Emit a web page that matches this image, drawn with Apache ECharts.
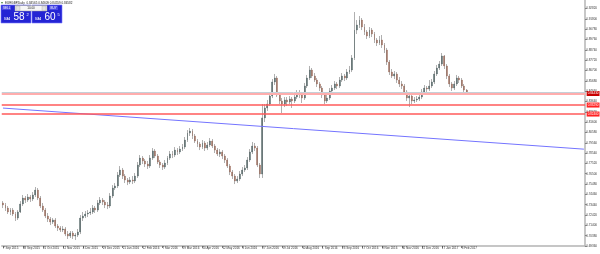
<!DOCTYPE html>
<html><head><meta charset="utf-8">
<script src="https://cdn.jsdelivr.net/npm/echarts@6/dist/echarts.min.js"></script>
<style>html,body{margin:0;padding:0;background:#fff}#c{width:600px;height:254px}</style>
</head><body><div id="c"></div>
<script>
// EURGBP daily (each bar here ~2 sessions), [open, close, low, high]
const candles = [
[0.7361,0.7341,0.7311,0.7380],[0.7341,0.7311,0.7282,0.7361],[0.7311,0.7272,0.7252,0.7331],[0.7272,0.7291,0.7242,0.7311],[0.7291,0.7252,0.7232,0.7311],
[0.7252,0.7212,0.7183,0.7272],[0.7212,0.7272,0.7193,0.7291],[0.7272,0.7351,0.7262,0.7380],[0.7351,0.7410,0.7331,0.7440],[0.7410,0.7390,0.7361,0.7430],
[0.7390,0.7420,0.7371,0.7450],[0.7420,0.7400,0.7371,0.7440],[0.7400,0.7440,0.7380,0.7469],[0.7440,0.7489,0.7420,0.7519],[0.7489,0.7410,0.7390,0.7509],
[0.7410,0.7331,0.7311,0.7430],[0.7331,0.7291,0.7272,0.7361],[0.7291,0.7232,0.7212,0.7311],[0.7232,0.7202,0.7173,0.7262],[0.7202,0.7173,0.7143,0.7222],
[0.7173,0.7193,0.7153,0.7212],[0.7193,0.7133,0.7114,0.7212],[0.7133,0.7114,0.7084,0.7153],[0.7114,0.7094,0.7074,0.7133],[0.7094,0.7104,0.7074,0.7133],
[0.7104,0.7054,0.7034,0.7123],[0.7054,0.7034,0.7005,0.7084],[0.7034,0.7064,0.7015,0.7084],[0.7064,0.7034,0.7005,0.7084],[0.7034,0.7044,0.6995,0.7064],
[0.7044,0.7074,0.7025,0.7104],[0.7074,0.7212,0.7054,0.7242],[0.7212,0.7232,0.7183,0.7272],[0.7232,0.7252,0.7212,0.7282],[0.7252,0.7262,0.7222,0.7291],
[0.7262,0.7272,0.7242,0.7311],[0.7272,0.7311,0.7252,0.7341],[0.7311,0.7291,0.7262,0.7331],[0.7291,0.7361,0.7272,0.7390],[0.7361,0.7390,0.7341,0.7420],
[0.7390,0.7371,0.7341,0.7410],[0.7371,0.7341,0.7311,0.7390],[0.7341,0.7331,0.7301,0.7371],[0.7331,0.7430,0.7311,0.7459],[0.7430,0.7509,0.7410,0.7538],
[0.7509,0.7529,0.7489,0.7558],[0.7529,0.7637,0.7509,0.7667],[0.7637,0.7687,0.7618,0.7726],[0.7687,0.7627,0.7598,0.7707],[0.7627,0.7588,0.7558,0.7647],
[0.7588,0.7568,0.7538,0.7608],[0.7568,0.7588,0.7548,0.7618],[0.7588,0.7578,0.7548,0.7627],[0.7578,0.7627,0.7558,0.7657],[0.7627,0.7736,0.7608,0.7766],
[0.7736,0.7805,0.7716,0.7835],[0.7805,0.7776,0.7746,0.7825],[0.7776,0.7746,0.7716,0.7795],[0.7746,0.7726,0.7697,0.7776],[0.7726,0.7805,0.7707,0.7835],
[0.7805,0.7875,0.7786,0.7904],[0.7875,0.7825,0.7805,0.7894],[0.7825,0.7766,0.7746,0.7845],[0.7766,0.7736,0.7707,0.7786],[0.7736,0.7716,0.7687,0.7756],
[0.7716,0.7756,0.7697,0.7786],[0.7756,0.7805,0.7736,0.7825],[0.7805,0.7845,0.7786,0.7875],[0.7845,0.7835,0.7805,0.7875],[0.7835,0.7884,0.7815,0.7914],
[0.7884,0.7865,0.7835,0.7904],[0.7865,0.7894,0.7845,0.7924],[0.7894,0.7914,0.7875,0.7944],[0.7914,0.7983,0.7894,0.8013],[0.7983,0.8052,0.7964,0.8082],
[0.8052,0.8072,0.8023,0.8102],[0.8072,0.8023,0.7993,0.8092],[0.8023,0.7973,0.7954,0.8043],[0.7973,0.7944,0.7914,0.7993],[0.7944,0.7914,0.7884,0.7964],
[0.7914,0.7954,0.7894,0.7983],[0.7954,0.7904,0.7875,0.7973],[0.7904,0.7934,0.7884,0.7964],[0.7934,0.7973,0.7914,0.8003],[0.7973,0.7924,0.7904,0.7993],
[0.7924,0.7884,0.7855,0.7944],[0.7884,0.7845,0.7825,0.7904],[0.7845,0.7865,0.7815,0.7894],[0.7865,0.7825,0.7795,0.7884],[0.7825,0.7786,0.7756,0.7845],
[0.7786,0.7726,0.7707,0.7805],[0.7726,0.7667,0.7637,0.7746],[0.7667,0.7627,0.7598,0.7687],[0.7627,0.7578,0.7548,0.7647],[0.7578,0.7598,0.7558,0.7627],
[0.7598,0.7647,0.7578,0.7677],[0.7647,0.7687,0.7627,0.7716],[0.7687,0.7707,0.7667,0.7736],[0.7707,0.7786,0.7687,0.7815],[0.7786,0.7865,0.7766,0.7894],
[0.7865,0.7924,0.7845,0.7964],[0.7924,0.7904,0.7875,0.7954],[0.7904,0.7736,0.7716,0.7924],[0.7736,0.7647,0.7608,0.7756],[0.7647,0.8202,0.7608,0.8339],
[0.8202,0.8300,0.8161,0.8339],[0.8300,0.8339,0.8270,0.8379],[0.8339,0.8418,0.8319,0.8448],[0.8418,0.8557,0.8398,0.8586],[0.8557,0.8596,0.8527,0.8636],
[0.8596,0.8428,0.8408,0.8616],[0.8428,0.8369,0.8339,0.8458],[0.8369,0.8339,0.8250,0.8398],[0.8339,0.8379,0.8309,0.8408],[0.8379,0.8359,0.8319,0.8408],
[0.8359,0.8388,0.8339,0.8418],[0.8388,0.8369,0.8300,0.8408],[0.8369,0.8408,0.8349,0.8438],[0.8408,0.8448,0.8388,0.8477],[0.8448,0.8428,0.8398,0.8477],
[0.8428,0.8398,0.8349,0.8458],[0.8398,0.8517,0.8379,0.8547],[0.8517,0.8596,0.8497,0.8626],[0.8596,0.8675,0.8576,0.8715],[0.8675,0.8616,0.8596,0.8695],
[0.8616,0.8576,0.8557,0.8645],[0.8576,0.8537,0.8507,0.8596],[0.8537,0.8497,0.8468,0.8557],[0.8497,0.8428,0.8398,0.8517],[0.8428,0.8369,0.8339,0.8448],
[0.8369,0.8398,0.8349,0.8428],[0.8398,0.8468,0.8379,0.8497],[0.8468,0.8497,0.8448,0.8527],[0.8497,0.8537,0.8477,0.8566],[0.8537,0.8517,0.8487,0.8557],
[0.8517,0.8576,0.8497,0.8606],[0.8576,0.8616,0.8557,0.8645],[0.8616,0.8596,0.8566,0.8636],[0.8596,0.8655,0.8576,0.8685],[0.8655,0.8675,0.8636,0.8715],
[0.8675,0.8794,0.8655,0.8823],[0.8794,0.9070,0.8774,0.9248],[0.9070,0.9120,0.9031,0.9169],[0.9120,0.9169,0.9090,0.9209],[0.9169,0.9100,0.9070,0.9189],
[0.9100,0.9051,0.9021,0.9130],[0.9051,0.9011,0.8982,0.9070],[0.9011,0.9070,0.8991,0.9100],[0.9070,0.9031,0.9001,0.9090],[0.9031,0.8972,0.8942,0.9051],
[0.8972,0.8942,0.8912,0.8991],[0.8942,0.8972,0.8922,0.9011],[0.8972,0.8922,0.8893,0.9021],[0.8922,0.8873,0.8843,0.8942],[0.8873,0.8754,0.8725,0.8893],
[0.8754,0.8655,0.8626,0.8774],[0.8655,0.8616,0.8596,0.8685],[0.8616,0.8636,0.8586,0.8665],[0.8636,0.8576,0.8547,0.8655],[0.8576,0.8537,0.8507,0.8606],
[0.8537,0.8517,0.8487,0.8566],[0.8517,0.8458,0.8428,0.8537],[0.8458,0.8398,0.8369,0.8477],[0.8398,0.8418,0.8309,0.8448],[0.8418,0.8369,0.8339,0.8438],
[0.8369,0.8379,0.8349,0.8408],[0.8379,0.8388,0.8359,0.8418],[0.8388,0.8408,0.8369,0.8438],[0.8408,0.8458,0.8388,0.8487],[0.8458,0.8497,0.8438,0.8527],
[0.8497,0.8487,0.8458,0.8517],[0.8487,0.8517,0.8468,0.8576],[0.8517,0.8557,0.8497,0.8586],[0.8557,0.8636,0.8537,0.8665],[0.8636,0.8695,0.8616,0.8725],
[0.8695,0.8734,0.8675,0.8764],[0.8734,0.8814,0.8715,0.8843],[0.8814,0.8715,0.8685,0.8823],[0.8715,0.8616,0.8586,0.8734],[0.8616,0.8537,0.8507,0.8636],
[0.8537,0.8497,0.8468,0.8557],[0.8497,0.8537,0.8477,0.8566],[0.8537,0.8596,0.8517,0.8626],[0.8596,0.8576,0.8547,0.8616],[0.8576,0.8517,0.8497,0.8596],
[0.8517,0.8477,0.8458,0.8537],[0.8477,0.84582,0.8448,0.8487]
];
// date labels along the time axis (one every 8 bars)
const dateLabels = ['7 Sep 2015','28 Sep 2015','21 Oct 2015','12 Nov 2015','4 Dec 2015','29 Dec 2015','21 Jan 2016','12 Feb 2016','7 Mar 2016','29 Mar 2016','20 Apr 2016','12 May 2016','3 Jun 2016','27 Jun 2016','19 Jul 2016','10 Aug 2016','1 Sep 2016','23 Sep 2016','17 Oct 2016','8 Nov 2016','30 Nov 2016','22 Dec 2016','17 Jan 2017','8 Feb 2017'];
const barsPerLabel = 8;
const totalSlots = 234;           // includes empty chart shift on the right
const bidPrice = 0.84582;
const levelPrices = [0.8443, 0.8329, 0.8240];
const trendLine = [[0, 0.8299], [233, 0.7893]];  // [slot index, price]
const titleText = 'EURGBP,Daily  0.84565 0.84609 0.84559 0.84582';
const sellQuote = ['0.84', '58', '2'];
const buyQuote = ['0.84', '60', '5'];
const lotText = '10.00';

const categories = [];
for (let i = 0; i < totalSlots; i++) {
  const k = i / barsPerLabel;
  categories.push(Number.isInteger(k) && k < dateLabels.length ? dateLabels[k] : '');
}
const showLabel = (idx) => categories[idx] !== '';
const bodies = candles.map(([o, c]) => [o, c, Math.min(o, c), Math.max(o, c)]);

const chart = echarts.init(document.getElementById('c'), null, {renderer: 'canvas'});
const FONT = 'Liberation Sans, Arial, sans-serif';
const blue = '#2424d4';
const levelLabel = (bg) => ({show: true, position: 'end', distance: 1.5, formatter: p => p.value.toFixed(5),
  color: '#fff', backgroundColor: bg, fontSize: 3, padding: [1, 1], fontFamily: FONT});
chart.setOption({
  animation: false,
  grid: {left: 0, right: 14, top: 0, bottom: 8},
  xAxis: {
    type: 'category', data: categories, boundaryGap: true,
    axisLine: {lineStyle: {color: '#b4b4b4', width: 1.5}},
    axisTick: {show: true, interval: showLabel, length: 2, alignWithLabel: true, lineStyle: {color: '#777'}},
    axisLabel: {interval: showLabel, fontSize: 3, margin: 1, align: 'left', color: '#333', fontFamily: FONT},
    splitLine: {show: false}
  },
  yAxis: {
    type: 'value', position: 'right', scale: true,
    min: 0.6936, max: 0.9367, interval: 0.0102,
    axisLine: {show: true, lineStyle: {color: '#b4b4b4', width: 1.5}},
    axisTick: {show: true, length: 1.5, lineStyle: {color: '#777'}},
    axisLabel: {fontSize: 3, margin: 1, color: '#333', fontFamily: FONT, showMaxLabel: false,
      formatter: v => v.toFixed(5)},
    splitLine: {show: false}
  },
  series: [
    {
      type: 'candlestick', data: candles, barWidth: 1, silent: true,
      itemStyle: {color: '#b0b0b0', color0: '#b0b0b0', borderColor: '#b0b0b0', borderColor0: '#b0b0b0', borderWidth: 1}
    },
    {
      type: 'candlestick', data: bodies, barWidth: 1.4, silent: true,
      itemStyle: {color: '#45585a', color0: '#93604e', borderColor: '#45585a', borderColor0: '#93604e', borderWidth: 0.3},
      markLine: {
        silent: true, symbol: ['none', 'none'], animation: false, precision: 5,
        data: [
          [{coord: trendLine[0], lineStyle: {color: '#7474ff', width: 1, type: 'solid'}, label: {show: false}},
           {coord: trendLine[1]}],
          {yAxis: bidPrice, lineStyle: {color: '#c4d0d8', width: 1, type: 'solid'}, label: {show: false}},
          {yAxis: levelPrices[0], lineStyle: {color: '#ffadad', width: 2, type: 'solid'}, label: levelLabel('#c80000')},
          {yAxis: levelPrices[1], lineStyle: {color: '#ff5a5a', width: 1.5, type: 'solid'}, label: levelLabel('#f22')},
          {yAxis: levelPrices[2], lineStyle: {color: '#ff5a5a', width: 1.5, type: 'solid'}, label: levelLabel('#f22')}
        ]
      }
    }
  ],
  graphic: [
    {type: 'text', left: 1, top: 1, style: {text: '▾', fontSize: 4, fill: '#4a8a4a', fontFamily: 'DejaVu Sans'}},
    {type: 'text', left: 5, top: 1.2, style: {text: titleText, fontSize: 3, fill: '#222', fontFamily: FONT}},
    {type: 'rect', shape: {x: 1, y: 5, width: 30, height: 18}, style: {fill: blue, stroke: '#7a7aff', lineWidth: 0.6}},
    {type: 'rect', shape: {x: 32, y: 5, width: 30, height: 18}, style: {fill: blue, stroke: '#7a7aff', lineWidth: 0.6}},
    {type: 'rect', shape: {x: 2, y: 6, width: 9, height: 4}, style: {fill: '#4a4ae6'}},
    {type: 'rect', shape: {x: 49, y: 6, width: 9, height: 4}, style: {fill: '#4a4ae6'}},
    {type: 'text', x: 3, y: 8, style: {text: 'SELL', fontSize: 3, fill: '#fff', verticalAlign: 'middle', fontFamily: FONT}},
    {type: 'text', x: 50.5, y: 8, style: {text: 'BUY', fontSize: 3, fill: '#fff', verticalAlign: 'middle', fontFamily: FONT}},
    {type: 'rect', shape: {x: 15, y: 5.5, width: 32, height: 5.5}, style: {fill: '#f6f6f6', stroke: '#9a9a9a', lineWidth: 0.5}},
    {type: 'rect', shape: {x: 16, y: 6, width: 4, height: 4.5}, style: {fill: '#e2e2e2', stroke: '#aaa', lineWidth: 0.4}},
    {type: 'rect', shape: {x: 42, y: 6, width: 4, height: 4.5}, style: {fill: '#e2e2e2', stroke: '#aaa', lineWidth: 0.4}},
    {type: 'text', x: 31, y: 8.3, style: {text: lotText, fontSize: 3, fill: '#222', align: 'center', verticalAlign: 'middle', fontFamily: FONT}},
    {type: 'text', x: 4, y: 19.5, style: {text: sellQuote[0], fontSize: 3, fill: '#fff', verticalAlign: 'middle', fontFamily: FONT, fontWeight: 'bold'}},
    {type: 'text', x: 13.5, y: 17.5, style: {text: sellQuote[1], fontSize: 10, fill: '#fff', verticalAlign: 'middle', fontFamily: FONT}},
    {type: 'text', x: 26.5, y: 14.5, style: {text: sellQuote[2], fontSize: 4, fill: '#fff', verticalAlign: 'middle', fontFamily: FONT}},
    {type: 'text', x: 35, y: 19.5, style: {text: buyQuote[0], fontSize: 3, fill: '#fff', verticalAlign: 'middle', fontFamily: FONT, fontWeight: 'bold'}},
    {type: 'text', x: 44.5, y: 17.5, style: {text: buyQuote[1], fontSize: 10, fill: '#fff', verticalAlign: 'middle', fontFamily: FONT}},
    {type: 'text', x: 57.5, y: 14.5, style: {text: buyQuote[2], fontSize: 4, fill: '#fff', verticalAlign: 'middle', fontFamily: FONT}}
  ]
});
</script></body></html>
